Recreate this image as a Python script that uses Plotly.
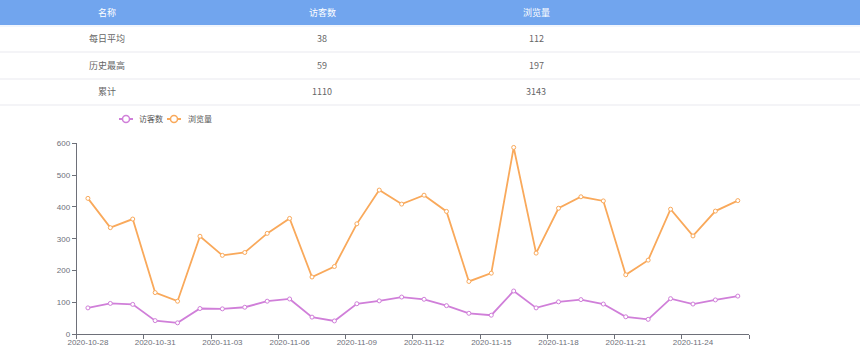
import pandas as pd
import plotly.graph_objects as go

# ---- data ----
dates = list(pd.date_range("2020-10-28", "2020-11-26", freq="D").strftime("%Y-%m-%d"))
visitors = [83, 97, 94, 43, 36, 81, 80, 85, 104, 111, 54, 42, 96, 105, 117, 110, 90,
            66, 60, 136, 83, 102, 109, 95, 55, 47, 112, 95, 108, 120]
pageviews = [427, 335, 362, 131, 104, 308, 248, 257, 317, 364, 180, 213, 347, 453, 409, 437, 386,
             166, 192, 587, 255, 396, 432, 419, 187, 233, 393, 309, 387, 420]

table_header = ["名称", "访客数", "浏览量"]
row_names = ["每日平均", "历史最高", "累计"]
row_visitors = ["38", "59", "1110"]
row_pageviews = ["112", "197", "3143"]

series_names = ["访客数", "浏览量"]
colors = ["#D07FD9", "#F9A95B"]

W, H = 860, 364


def px(x):
    return x / W


def py(y):
    return 1 - y / H


fig = go.Figure()
for name, vals, c in zip(series_names, [visitors, pageviews], colors):
    fig.add_trace(go.Scatter(
        x=dates, y=vals, name=name, mode="lines+markers",
        line=dict(color=c, width=1.8),
        marker=dict(symbol="circle", size=4, color="white", line=dict(color=c, width=1)),
        showlegend=False,
        hovertemplate="%{x}<br>" + name + ": %{y}<extra></extra>",
    ))

shapes = []
annotations = []

# ---- table ----
shapes.append(dict(type="rect", xref="paper", yref="paper", x0=0, x1=1, y0=py(25), y1=py(0),
                   fillcolor="#71A5EE", line=dict(width=0), layer="below"))
shapes.append(dict(type="line", xref="paper", yref="paper", x0=0, x1=1, y0=py(26), y1=py(26),
                   line=dict(color="#E4EDFB", width=1)))
for yl in [52, 79, 105]:
    shapes.append(dict(type="line", xref="paper", yref="paper", x0=0, x1=1, y0=py(yl), y1=py(yl),
                       line=dict(color="#F0F1F5", width=1.5)))

col_x = [107, 322, 536]
font_cjk = "Noto Sans CJK SC, Liberation Sans, sans-serif"
for cx, t in zip(col_x, table_header):
    annotations.append(dict(x=px(cx), y=py(12.5), xref="paper", yref="paper", text=t, showarrow=False,
                            font=dict(color="white", size=9, family=font_cjk), xanchor="center", yanchor="middle"))
row_y = [38.5, 65.5, 91.5]
for i, ry in enumerate(row_y):
    for cx, t in zip(col_x, [row_names[i], row_visitors[i], row_pageviews[i]]):
        annotations.append(dict(x=px(cx), y=py(ry), xref="paper", yref="paper", text=t, showarrow=False,
                                font=dict(color="#666666", size=9, family=font_cjk),
                                xanchor="center", yanchor="middle"))

# ---- legend (custom) ----
leg_items = [(119, 137), (167, 186)]
for (lx, tx), name, c in zip(leg_items, series_names, colors):
    shapes.append(dict(type="line", xref="paper", yref="paper", x0=px(lx), x1=px(lx + 14), y0=py(119), y1=py(119),
                       line=dict(color=c, width=2)))
    shapes.append(dict(type="circle", xref="paper", yref="paper", x0=px(lx + 3.5), x1=px(lx + 10.5),
                       y0=py(122.5), y1=py(115.5), fillcolor="white", line=dict(color=c, width=1.5)))
    annotations.append(dict(x=px(tx), y=py(119), xref="paper", yref="paper", text=name, showarrow=False,
                            font=dict(color="#555555", size=8, family=font_cjk), xanchor="left", yanchor="middle"))

axis_color = "#6E7079"
fig.update_layout(
    width=W, height=H,
    margin=dict(l=0, r=0, t=0, b=0, autoexpand=False),
    paper_bgcolor="white", plot_bgcolor="white",
    shapes=shapes, annotations=annotations,
    font=dict(family="Liberation Sans, sans-serif", size=8, color=axis_color),
    xaxis=dict(
        type="category",
        domain=[px(76.7), px(749)],
        range=[-0.5, len(dates) - 0.5],
        tickmode="linear", tick0=0, dtick=3, tickson="boundaries", tickangle=0,
        showline=True, linecolor=axis_color, linewidth=1,
        ticks="outside", ticklen=4, tickcolor=axis_color,
        showgrid=False, zeroline=False, automargin=False,
        tickfont=dict(size=8, color=axis_color),
    ),
    yaxis=dict(
        domain=[py(334.3), py(143.3)],
        range=[0, 600], dtick=100,
        showline=True, linecolor=axis_color, linewidth=1,
        ticks="outside", ticklen=4, tickcolor=axis_color,
        showgrid=False, zeroline=False, automargin=False,
        tickfont=dict(size=8, color=axis_color),
    ),
)

fig.write_html("out.html", config={"displayModeBar": False},
               post_script="document.body.style.margin='0';document.body.style.overflow='hidden';")
